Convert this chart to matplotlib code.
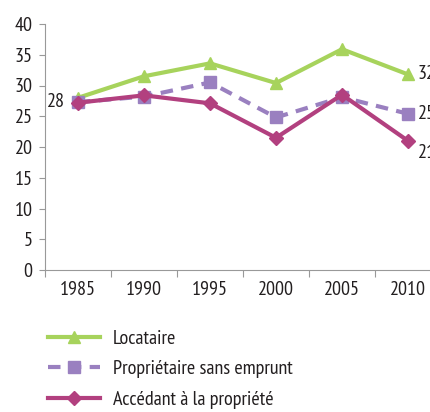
import matplotlib
matplotlib.use("Agg")
from matplotlib import pyplot as plt

years = ["1985", "1990", "1995", "2000", "2005", "2010"]
locataire = [28.0, 31.5, 33.6, 30.4, 35.9, 31.8]
proprietaire = [27.3, 28.2, 30.5, 24.8, 28.1, 25.4]
accedant = [27.2, 28.4, 27.1, 21.5, 28.5, 21.0]
yticks = [0, 5, 10, 15, 20, 25, 30, 35, 40]
start_label = "28"
end_labels = ["32", "25", "21"]

plt.rcParams['font.family'] = ['PT Sans Narrow', 'DejaVu Sans']
plt.rcParams['font.size'] = 14.5

green = "#a7d35c"
purple = "#9a80c0"
magenta = "#b2407f"
txt = "#231f20"
axis_col = "#999999"

fig = plt.figure(figsize=(4.3, 4.12), dpi=100)
ax = fig.add_axes([45 / 430, 142 / 412, 396 / 430, 246 / 412])

x = list(range(len(years)))
l1, = ax.plot(x, locataire, color=green, lw=3, marker="^", ms=8, label="Locataire")
l2, = ax.plot(x, proprietaire, color=purple, lw=3, ls=(0, (3, 2)), marker="s", ms=8,
              label="Propriétaire sans emprunt")
l3, = ax.plot(x, accedant, color=magenta, lw=3, marker="D", ms=7, label="Accédant à la propriété")

ax.set_xlim(-0.5, len(years) - 0.5)
ax.set_ylim(0, 40)
ax.set_yticks(yticks)
ax.set_xticks([i - 0.5 for i in range(len(years) + 1)])
ax.set_xticklabels([])
ax.set_xticks(x, minor=True)
ax.set_xticklabels(years, minor=True)
ax.tick_params(axis="x", which="minor", length=0, pad=8, colors=txt)
ax.tick_params(axis="x", which="major", length=5, color=axis_col)
ax.tick_params(axis="y", length=4, color=axis_col, colors=txt, pad=5)
for s in ["top", "right"]:
    ax.spines[s].set_visible(False)
for s in ["left", "bottom"]:
    ax.spines[s].set_color(axis_col)

# étiquettes de début et de fin de série
ax.text(-0.2, locataire[0] - 0.7, start_label, ha="right", va="center", color=txt)
ax.text(5.15, locataire[-1], end_labels[0], ha="left", va="center", color=txt)
ax.text(5.15, proprietaire[-1], end_labels[1], ha="left", va="center", color=txt)
ax.text(5.15, accedant[-1] - 1.9, end_labels[2], ha="left", va="center", color=txt)

fig.legend(handles=[l1, l2, l3], loc="upper left", bbox_to_anchor=(30 / 430, 100 / 412),
           frameon=False, handlelength=2.6, labelspacing=0.6, handletextpad=0.6,
           labelcolor=txt)

fig.savefig("out.png", dpi=100)
